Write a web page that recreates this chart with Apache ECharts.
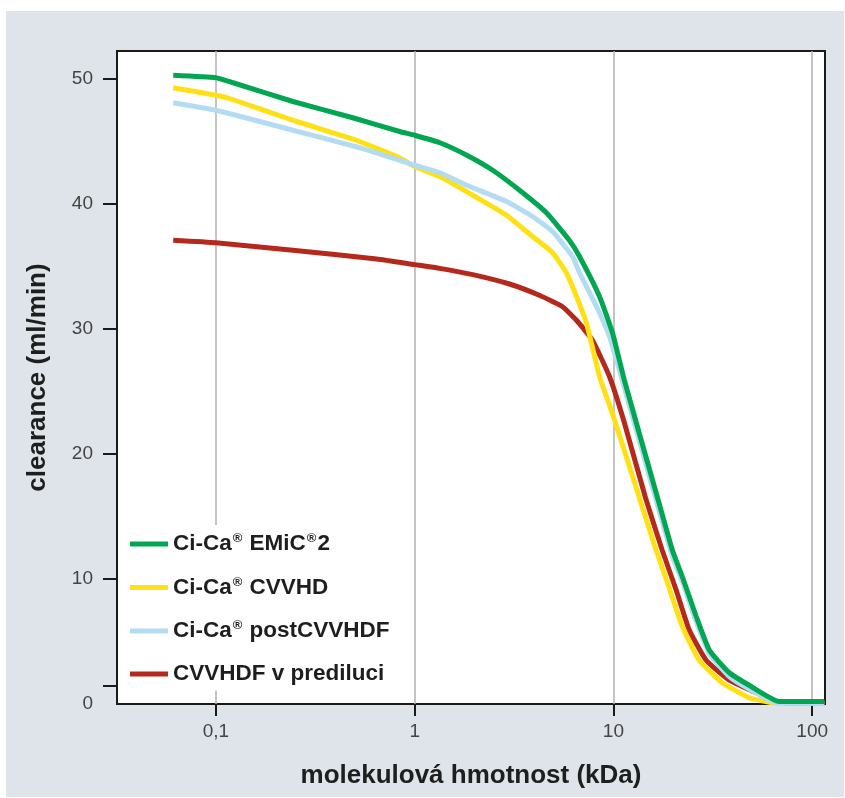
<!DOCTYPE html>
<html>
<head>
<meta charset="utf-8">
<script src="https://cdn.jsdelivr.net/npm/echarts@6/dist/echarts.min.js"></script>
<style>
  html, body { margin: 0; padding: 0; background: #fff; }
  #chart { width: 845px; height: 798px; }
</style>
</head>
<body>
<div id="chart"></div>
<script>
  // molekulova hmotnost (kDa) vs. clearance (ml/min)
  const seriesNames = ['Ci-Ca® EMiC®2', 'Ci-Ca® CVVHD', 'Ci-Ca® postCVVHDF', 'CVVHDF v prediluci'];
  const seriesColors = ['#00a650', '#ffe014', '#b3dcf3', '#b5291c'];

  const emic2 = [
    [0.061, 50.3], [0.1, 50.1], [0.122, 49.7], [0.244, 48.2], [0.488, 46.9], [0.84, 45.8],
    [1, 45.5], [1.34, 44.9], [1.83, 43.9], [2.47, 42.7], [3.37, 41.1], [4.6, 39.3],
    [6.0, 37.1], [6.75, 35.8], [8.51, 32.6], [9.89, 29.7], [11.35, 25.9], [16.4, 16.9],
    [19.8, 12.3], [22.2, 10.2], [26.1, 7.0], [30.4, 4.3], [38.3, 2.5], [48.2, 1.5],
    [68.2, 0.2], [115, 0.2]
  ];
  const cvvhd = [
    [0.061, 49.3], [0.1, 48.7], [0.114, 48.5], [0.244, 46.7], [0.51, 45.1], [0.84, 43.7],
    [1, 43.0], [1.38, 42.1], [1.96, 40.7], [2.9, 39.1], [3.92, 37.4], [4.94, 36.1],
    [5.8, 34.5], [6.52, 32.6], [7.31, 30.5], [8.51, 26.2], [10, 23.0], [13.5, 16.5],
    [16.4, 12.3], [18.7, 9.7], [22.2, 6.2], [27.0, 3.5], [35.3, 1.7], [48.2, 0.5],
    [63.0, 0.1], [115, 0.05]
  ];
  const postcvvhdf = [
    [0.061, 48.1], [0.1, 47.5], [0.244, 45.9], [0.53, 44.5], [0.84, 43.5], [1, 43.1],
    [1.34, 42.5], [1.83, 41.5], [2.9, 40.2], [3.92, 39.0], [4.94, 37.8], [6.22, 35.8],
    [6.75, 34.5], [8.22, 31.8], [9.55, 29.4], [11.35, 25.3], [16.4, 16.3], [19.8, 11.8],
    [22.2, 9.8], [26.1, 6.6], [30.4, 4.0], [38.3, 2.2], [48.2, 1.2], [66, 0.1], [115, 0.1]
  ];
  const predilution = [
    [0.061, 37.1], [0.1, 36.9], [0.244, 36.3], [0.644, 35.6], [1, 35.15], [1.34, 34.85],
    [1.96, 34.35], [3.0, 33.6], [4.24, 32.7], [5.53, 31.8], [6.52, 30.7], [7.84, 29.1],
    [9.55, 26.2], [11.35, 22.5], [14.5, 16.5], [17.6, 12.3], [20.7, 9.1], [24.1, 5.9],
    [29.3, 3.5], [38.3, 1.9], [52.3, 0.9], [65.9, 0.15], [115, 0.05]
  ];
  const seriesData = [emic2, cvvhd, postcvvhdf, predilution];

  const xTickValues = [0.1, 1, 10, 100];
  const yLabelValues = [0, 10, 20, 30, 40, 50];
  const yTickValues = [1.5, 10, 20, 30, 40, 50];

  const font = '"Liberation Sans", Arial, sans-serif';

  // legend text with raised registered sign
  function legendText (name) {
    return name.split('®').map(function (part, i) {
      return (i > 0 ? '{sup|®}' : '') + (part ? '{t|' + part + '}' : '');
    }).join('');
  }

  const chart = echarts.init(document.getElementById('chart'));

  const option = {
    backgroundColor: '#ffffff',
    animation: false,
    graphic: [{
      type: 'rect',
      z: -10,
      silent: true,
      shape: { x: 6, y: 11, width: 838, height: 786 },
      style: { fill: '#dee4ea' }
    }],
    grid: {
      left: 117, right: 20, top: 51, bottom: 94,
      show: true,
      backgroundColor: '#ffffff',
      borderColor: '#1a1a1a',
      borderWidth: 2
    },
    legend: {
      orient: 'vertical',
      left: 118,
      top: 525,
      padding: [7, 14, 5, 12],
      backgroundColor: '#ffffff',
      itemWidth: 38,
      itemHeight: 5,
      itemGap: 20,
      icon: 'rect',
      data: seriesNames,
      formatter: legendText,
      textStyle: {
        rich: {
          t: { fontFamily: font, fontSize: 22.5, fontWeight: 'bold', color: '#1e1e1e', lineHeight: 24 },
          sup: { fontFamily: font, fontSize: 13, fontWeight: 'bold', color: '#1e1e1e', verticalAlign: 'top', lineHeight: 24, padding: [0, 1, 8, 1] }
        }
      }
    },
    xAxis: {
      type: 'log',
      logBase: 10,
      min: 0.0318,
      max: 116,
      name: 'molekulová hmotnost (kDa)',
      nameLocation: 'middle',
      nameGap: 59,
      nameTextStyle: { fontFamily: font, fontSize: 26, fontWeight: 'bold', color: '#1e1e1e' },
      axisLine: { show: false },
      axisTick: {
        show: true,
        customValues: xTickValues,
        length: 12,
        lineStyle: { color: '#1a1a1a', width: 2 }
      },
      axisLabel: {
        customValues: xTickValues,
        margin: 18,
        fontFamily: font,
        fontSize: 19,
        color: '#444444',
        formatter: function (v) { return String(v).replace('.', ','); }
      },
      splitLine: { show: true, lineStyle: { color: '#b0b0b0', width: 1.5 } },
      minorSplitLine: { show: false }
    },
    yAxis: {
      type: 'value',
      min: 0,
      max: 52.24,
      name: 'clearance (ml/min)',
      nameLocation: 'middle',
      nameGap: 66,
      nameTextStyle: { fontFamily: font, fontSize: 26, fontWeight: 'bold', color: '#1e1e1e' },
      axisLine: { show: false },
      axisTick: {
        show: true,
        customValues: yTickValues,
        length: 14,
        lineStyle: { color: '#1a1a1a', width: 2 }
      },
      axisLabel: {
        customValues: yLabelValues,
        margin: 24,
        fontFamily: font,
        fontSize: 19,
        color: '#444444'
      },
      splitLine: { show: false }
    },
    series: seriesData.map(function (data, i) {
      return {
        name: seriesNames[i],
        type: 'line',
        data: data,
        smooth: 0.15,
        showSymbol: false,
        symbol: 'none',
        color: seriesColors[i],
        lineStyle: { width: 5, color: seriesColors[i] }
      };
    })
  };

  // draw order: red, yellow, light blue, green on top
  option.series[0].z = 5;
  option.series[1].z = 3;
  option.series[2].z = 4;
  option.series[3].z = 2;

  chart.setOption(option);
  window.addEventListener('resize', function () { chart.resize(); });
</script>
</body>
</html>
